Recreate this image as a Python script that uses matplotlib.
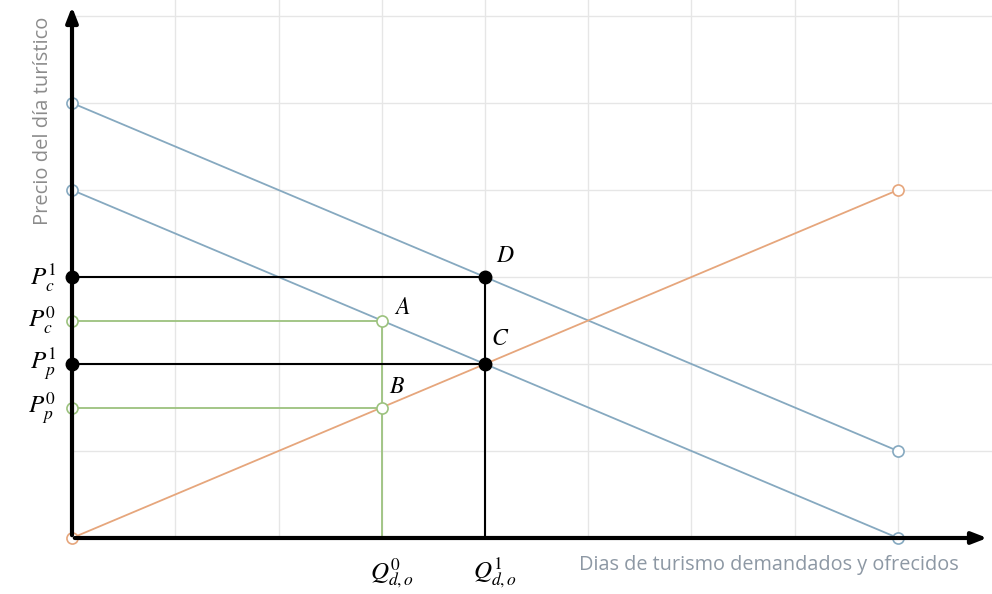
import matplotlib.pyplot as plt

# Curves (quantity, price)
demand_high_x = [0, 8]
demand_high_y = [5, 1]
demand_low_x = [0, 8]
demand_low_y = [4, 0]
supply_x = [0, 8]
supply_y = [0, 4]

# Equilibrium quantities / prices
q0, q1 = 3, 4
pc0, pp0 = 2.5, 1.5
pc1, pp1 = 3, 2

price_labels = [r'$P_c^1$', r'$P_c^0$', r'$P_p^1$', r'$P_p^0$']
price_values = [pc1, pc0, pp1, pp0]
qty_labels = [r'$Q_{d,o}^0$', r'$Q_{d,o}^1$']
qty_values = [q0, q1]
point_names = ['A', 'B', 'C', 'D']
point_x = [q0, q0, q1, q1]
point_y = [pc0, pp0, pp1, pc1]

blue = '#86a9c0'
orange = '#e6a67c'
green = '#9cc27e'
grid_col = '#e6e6e6'

plt.rcParams['mathtext.fontset'] = 'stix'

fig = plt.figure(figsize=(9.92, 5.94), dpi=100)
ax = fig.add_axes([72 / 992, 56 / 594, 920 / 992, 538 / 594])
ax.set_xlim(0, 920 / 103.25)
ax.set_ylim(0, 538 / 87)

# grid
for gx in range(1, 9):
    ax.axvline(gx, color=grid_col, lw=1, zorder=0)
for gy in range(1, 7):
    ax.axhline(gy, color=grid_col, lw=1, zorder=0)

hollow = dict(marker='o', markersize=8, markerfacecolor='white', markeredgewidth=1.2, clip_on=False)

ax.plot(demand_high_x, demand_high_y, color=blue, lw=1.3, zorder=2, **hollow)
ax.plot(demand_low_x, demand_low_y, color=blue, lw=1.3, zorder=2, **hollow)
ax.plot(supply_x, supply_y, color=orange, lw=1.3, zorder=2, **hollow)

# initial (green) guides
ax.plot([0, q0], [pc0, pc0], color=green, lw=1.3, zorder=3, **hollow)
ax.plot([0, q0], [pp0, pp0], color=green, lw=1.3, zorder=3, **hollow)
ax.plot([q0, q0], [0, pc0], color=green, lw=1.3, zorder=2)

# new (black) guides
filled = dict(marker='o', markersize=9, markerfacecolor='black', markeredgecolor='black', clip_on=False)
ax.plot([0, q1], [pc1, pc1], color='black', lw=1.5, zorder=4, **filled)
ax.plot([0, q1], [pp1, pp1], color='black', lw=1.5, zorder=4, **filled)
ax.plot([q1, q1], [0, pc1], color='black', lw=1.5, zorder=3)

for s in ax.spines.values():
    s.set_visible(False)
ax.set_xticks([])
ax.set_yticks([])

# axis arrows
ax.annotate('', xy=(918 / 103.25, 0), xytext=(0, 0), annotation_clip=False,
            arrowprops=dict(arrowstyle='-|>,head_length=0.9,head_width=0.35', color='black', lw=3), zorder=5)
ax.annotate('', xy=(0, 534 / 87), xytext=(0, 0), annotation_clip=False,
            arrowprops=dict(arrowstyle='-|>,head_length=0.9,head_width=0.35', color='black', lw=3), zorder=5)

# labels
for lab, v in zip(price_labels, price_values):
    ax.text(-0.15, v, lab, ha='right', va='center', fontsize=18)
for lab, v in zip(qty_labels, qty_values):
    ax.text(v + 0.1, -0.4, lab, ha='center', va='center', fontsize=18)

offsets = {'A': (0.2, 0.15), 'B': (0.15, 0.25), 'C': (0.15, 0.3), 'D': (0.2, 0.25)}
for name, px, py in zip(point_names, point_x, point_y):
    dx, dy = offsets[name]
    ax.text(px + dx, py + dy, '$' + name + '$', ha='center', va='center', fontsize=17)

fig.text(43 / 992, 1 - 121 / 594, 'Precio del día turístico', rotation=90, ha='center', va='center',
         fontsize=14.5, color='#8c8c8c', family='Open Sans')
fig.text(769 / 992, 1 - 565 / 594, 'Dias de turismo demandados y ofrecidos', ha='center', va='center',
         fontsize=14.3, color='#8d98a4', family='Open Sans')

fig.savefig('out.png', dpi=100)
